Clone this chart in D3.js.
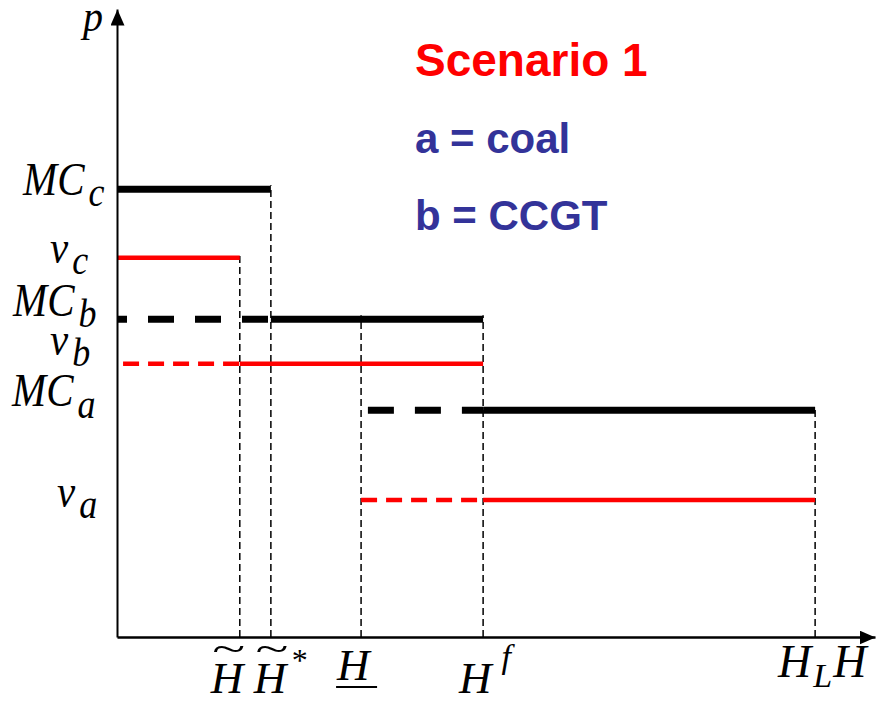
<!DOCTYPE html>
<html>
<head>
<meta charset="utf-8">
<script src="https://cdn.jsdelivr.net/npm/d3@7"></script>
<style>
  body { margin: 0; background: #fff; }
  svg { display: block; }
</style>
</head>
<body>
<div id="chart"></div>
<script>
// price levels on the p axis
const levelNames = ['MC_c', 'v_c', 'MC_b', 'v_b', 'MC_a', 'v_a'];
const levelValues = [71.3, 60.4, 50.6, 43.5, 36.1, 21.8];

// quantity marks on the H axis
const markNames = ['Ht', 'HtStar', 'Hu', 'Hf', 'HL'];
const markValues = [16.2, 20.3, 32.2, 48.3, 92.1];

// step segments: level, from, to, dashed
const steps = [
  ['MC_c', 0, 20.3, 0],
  ['v_c', 0, 16.2, 0],
  ['MC_b', 0, 20.3, 1],
  ['MC_b', 20.3, 48.3, 0],
  ['v_b', 0.8, 16.2, 1],
  ['v_b', 16.2, 48.3, 0],
  ['MC_a', 33.1, 48.3, 1],
  ['MC_a', 48.3, 92.1, 0],
  ['v_a', 32.2, 48.3, 1],
  ['v_a', 48.3, 92.1, 0]
];

// dashed drop lines: mark, level it rises to
const drops = [
  ['Ht', 'v_c'],
  ['HtStar', 'MC_c'],
  ['Hu', 'MC_b'],
  ['Hf', 'MC_b'],
  ['HL', 'MC_a']
];

const legendLines = ['Scenario 1', 'a = coal', 'b = CCGT'];

const config = { width: 884, height: 701 };
const serif = '"Liberation Serif", "Times New Roman", serif';
const sans = '"Liberation Sans", Arial, sans-serif';

const level = {};
levelNames.forEach((n, i) => level[n] = levelValues[i]);
const mark = {};
markNames.forEach((n, i) => mark[n] = markValues[i]);

const x = d3.scaleLinear().domain([0, 100]).range([117, 875]);
const y = d3.scaleLinear().domain([0, 100]).range([637, 9]);

const svg = d3.select('#chart')
  .append('svg')
  .attr('width', config.width)
  .attr('height', config.height);

svg.append('defs').append('marker')
  .attr('id', 'arrow')
  .attr('viewBox', '0 0 16 14')
  .attr('refX', 16)
  .attr('refY', 7)
  .attr('markerWidth', 16)
  .attr('markerHeight', 14)
  .attr('markerUnits', 'userSpaceOnUse')
  .attr('orient', 'auto')
  .append('path')
  .attr('d', 'M0,0L16,7L0,14Z')
  .attr('fill', '#000');

// drop lines first so steps sit on top
svg.append('g')
  .selectAll('line')
  .data(drops)
  .enter()
  .append('line')
  .attr('x1', d => x(mark[d[0]]))
  .attr('x2', d => x(mark[d[0]]))
  .attr('y1', y(0))
  .attr('y2', d => y(level[d[1]]) - 4)
  .attr('stroke', '#000')
  .attr('stroke-width', 1.5)
  .attr('stroke-dasharray', '7,4');

svg.append('g')
  .selectAll('line')
  .data(steps)
  .enter()
  .append('line')
  .attr('x1', d => x(d[1]))
  .attr('x2', d => x(d[2]))
  .attr('y1', d => y(level[d[0]]))
  .attr('y2', d => y(level[d[0]]))
  .attr('stroke', d => d[0].startsWith('MC') ? '#000' : '#ff0000')
  .attr('stroke-width', d => d[0].startsWith('MC') ? 7 : 4.5)
  .attr('stroke-dasharray', d => {
    if (!d[3]) return null;
    return d[0].startsWith('MC') ? '26,21' : '16,9';
  })
  .attr('stroke-dashoffset', d => d[3] && d[0] === 'MC_b' ? 16 : 0);

// axes
svg.append('g')
  .attr('transform', `translate(0,${y(0)})`)
  .call(d3.axisBottom(x).tickValues([]).tickSizeOuter(0))
  .call(g => g.select('.domain')
    .attr('stroke-width', 2.5)
    .attr('marker-end', 'url(#arrow)'));

svg.append('g')
  .attr('transform', `translate(${x(0)},0)`)
  .call(d3.axisLeft(y).tickValues([]).tickSizeOuter(0))
  .call(g => g.select('.domain')
    .attr('stroke-width', 2)
    .attr('marker-end', 'url(#arrow)'));

function mathText(px, py, parts, stretch) {
  const t = svg.append('text')
    .attr('transform', `translate(${px},${py}) scale(1,${stretch || 1})`)
    .attr('font-family', serif)
    .attr('font-style', 'italic')
    .attr('fill', '#000');
  parts.forEach(p => {
    t.append('tspan')
      .attr('font-size', p.size)
      .attr('dx', p.dx || 0)
      .attr('dy', p.dy || 0)
      .text(p.text);
  });
  return t;
}

function tilde(cx, base) {
  svg.append('text')
    .attr('transform', `translate(${cx},${base}) scale(1.6,1)`)
    .attr('text-anchor', 'middle')
    .attr('font-family', serif).attr('font-size', 38)
    .text('~');
}

// p axis label
mathText(x(0) - 34, 31, [{ text: 'p', size: 40 }], 1.12);

// level labels
const levelLabels = {
  MC_c: { left: 23, dy: 6, main: 'MC', sub: 'c' },
  v_c: { left: 50, dy: 5, main: 'v', sub: 'c' },
  MC_b: { left: 13, dy: -3, main: 'MC', sub: 'b' },
  v_b: { left: 50, dy: -9, main: 'v', sub: 'b' },
  MC_a: { left: 12, dy: -4, main: 'MC', sub: 'a' },
  v_a: { left: 57, dy: 7, main: 'v', sub: 'a' }
};

levelNames.forEach(n => {
  const l = levelLabels[n];
  mathText(l.left, y(level[n]) + l.dy, [
    { text: l.main, size: 41 },
    { text: l.sub, size: 36, dx: 4, dy: 10 }
  ], 1.12);
});

// H axis labels
const hx = n => x(mark[n]);

mathText(hx('Ht') - 29, 693, [{ text: 'H', size: 45 }]);
tilde(hx('Ht') - 11, 661);

mathText(hx('HtStar') - 17, 693, [
  { text: 'H', size: 45 },
  { text: '*', size: 32, dx: 4, dy: -22 }
]);
tilde(hx('HtStar') + 1, 661);

mathText(hx('Hu') - 24, 680, [{ text: 'H', size: 45 }]);
svg.append('line')
  .attr('x1', hx('Hu') - 25).attr('x2', hx('Hu') + 16)
  .attr('y1', 687).attr('y2', 687)
  .attr('stroke', '#000').attr('stroke-width', 2);

mathText(hx('Hf') - 24, 693, [
  { text: 'H', size: 45 },
  { text: 'f', size: 34, dx: 10, dy: -25 }
]);

mathText(hx('HL') - 37, 677, [
  { text: 'H', size: 46 },
  { text: 'L', size: 34, dx: 2, dy: 10 },
  { text: 'H', size: 46, dx: 1, dy: -10 }
]);

// legend text
svg.append('g')
  .selectAll('text')
  .data(legendLines)
  .enter()
  .append('text')
  .attr('x', 415)
  .attr('y', (d, i) => [76, 153, 230][i])
  .attr('font-family', sans)
  .attr('font-weight', 'bold')
  .attr('font-size', (d, i) => i === 0 ? 46 : 42)
  .attr('fill', (d, i) => i === 0 ? '#ff0000' : '#333399')
  .text(d => d);
</script>
</body>
</html>
